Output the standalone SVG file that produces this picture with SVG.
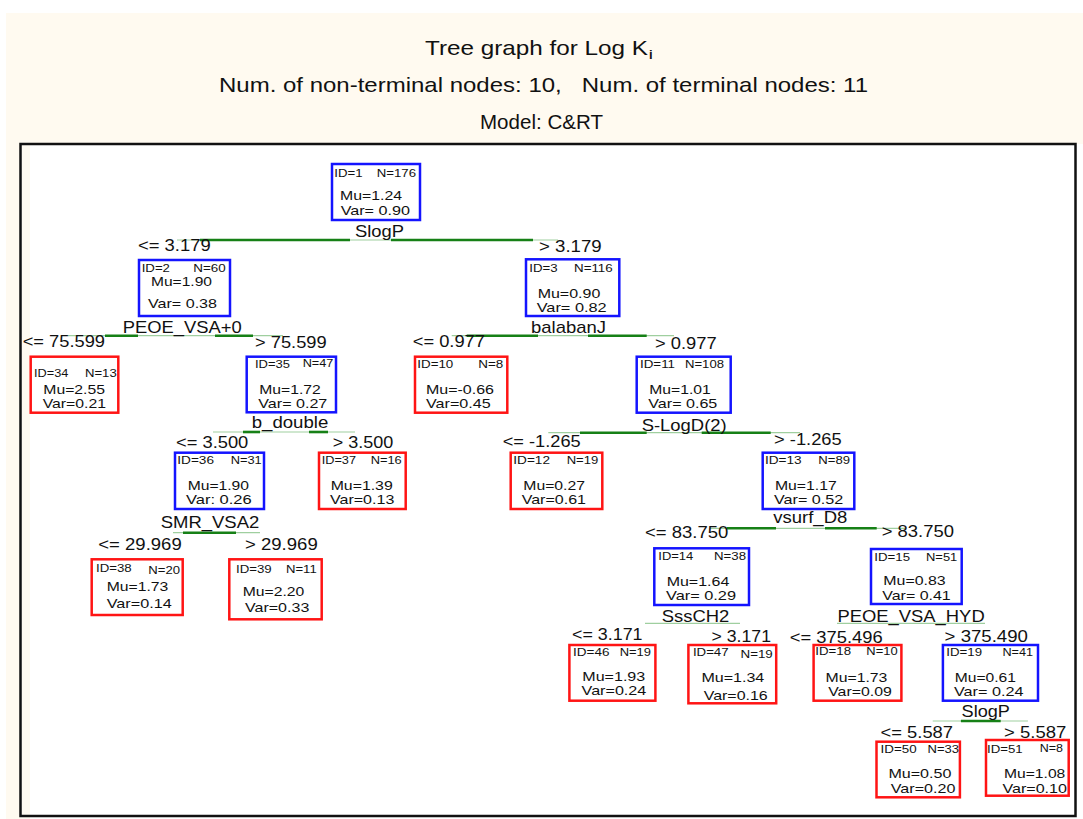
<svg xmlns="http://www.w3.org/2000/svg" width="1083" height="819" viewBox="0 0 1083 819">
<style>
.bx{fill:#fff;stroke-width:2.5}
.b{stroke:#1414ff}
.r{stroke:#ff1414}
text{fill:#111;font-family:"Liberation Sans",Arial,sans-serif}
.s{font-size:11.5px}
.m{font-size:13.5px}
.l{font-size:17px}
.t{font-size:21px}
.thin{stroke:#9fcf9f;stroke-width:1.2;fill:none}
.thick{stroke:#168016;stroke-width:2.6;fill:none}
</style>
<rect x="0" y="0" width="1083" height="819" fill="#ffffff"/>
<rect x="6" y="13" width="1077" height="131" fill="#fffaf0"/>
<rect x="6" y="144" width="24" height="675" fill="#fffaf0"/>
<rect x="20.5" y="144" width="1055" height="672" fill="none" stroke="#111" stroke-width="2.5"/>

<g id="title">
<text class="t" x="425" y="54.5" textLength="223" lengthAdjust="spacingAndGlyphs">Tree graph for Log K</text>
<text x="649" y="58.5" font-size="13" font-weight="bold">i</text>
<text class="t" x="219" y="91.5" textLength="649" lengthAdjust="spacingAndGlyphs" xml:space="preserve">Num. of non-terminal nodes: 10,   Num. of terminal nodes: 11</text>
<text class="t" x="480" y="128.5" textLength="123" lengthAdjust="spacingAndGlyphs">Model: C&amp;RT</text>
</g>

<g id="connectors">
<line class="thin" x1="177" y1="240" x2="558" y2="240"/>
<line class="thick" x1="200" y1="240" x2="350" y2="240"/>
<line class="thick" x1="391" y1="240" x2="533" y2="240"/>
<line class="thin" x1="68" y1="335.7" x2="283" y2="335.7"/>
<line class="thick" x1="105" y1="335.7" x2="138" y2="335.7"/>
<line class="thick" x1="215" y1="335.7" x2="253" y2="335.7"/>
<line class="thin" x1="213" y1="432" x2="355" y2="432"/>
<line class="thick" x1="243" y1="432" x2="260" y2="432"/>
<line class="thick" x1="309" y1="432" x2="328" y2="432"/>
<line class="thin" x1="173" y1="532.7" x2="260" y2="532.7"/>
<line class="thick" x1="183" y1="532.7" x2="236" y2="532.7"/>
<line class="thin" x1="451.7" y1="335.7" x2="674" y2="335.7"/>
<line class="thick" x1="466.7" y1="335.7" x2="538" y2="335.7"/>
<line class="thick" x1="588" y1="335.7" x2="646.7" y2="335.7"/>
<line class="thin" x1="548.3" y1="432.7" x2="800" y2="432.7"/>
<line class="thick" x1="580" y1="432.7" x2="646.7" y2="432.7"/>
<line class="thick" x1="701.7" y1="432.7" x2="770.7" y2="432.7"/>
<line class="thin" x1="710" y1="528.3" x2="905" y2="528.3"/>
<line class="thick" x1="726.7" y1="528.3" x2="776" y2="528.3"/>
<line class="thick" x1="825" y1="528.3" x2="876.7" y2="528.3"/>
<line class="thin" x1="645" y1="623.3" x2="740" y2="623.3"/>
<line class="thin" x1="837" y1="623.3" x2="985" y2="623.3"/>
<line class="thin" x1="932.7" y1="721" x2="1027.9" y2="721"/>
<line class="thick" x1="960.9" y1="721" x2="1000.7" y2="721"/>
</g>

<g id="split-labels">
<text class="l" x="138" y="251" textLength="72.7" lengthAdjust="spacingAndGlyphs">&lt;= 3.179</text>
<text class="l" x="539" y="251.7" textLength="62.7" lengthAdjust="spacingAndGlyphs">&gt; 3.179</text>
<text class="l" x="22.7" y="346.7" textLength="82.3" lengthAdjust="spacingAndGlyphs">&lt;= 75.599</text>
<text class="l" x="255" y="348.3" textLength="71.7" lengthAdjust="spacingAndGlyphs">&gt; 75.599</text>
<text class="l" x="176" y="448.3" textLength="72.3" lengthAdjust="spacingAndGlyphs">&lt;= 3.500</text>
<text class="l" x="332.7" y="448.3" textLength="60.6" lengthAdjust="spacingAndGlyphs">&gt; 3.500</text>
<text class="l" x="98.3" y="550" textLength="83.4" lengthAdjust="spacingAndGlyphs">&lt;= 29.969</text>
<text class="l" x="245" y="550" textLength="72.7" lengthAdjust="spacingAndGlyphs">&gt; 29.969</text>
<text class="l" x="412.7" y="347.3" textLength="72.3" lengthAdjust="spacingAndGlyphs">&lt;= 0.977</text>
<text class="l" x="655" y="349" textLength="61.7" lengthAdjust="spacingAndGlyphs">&gt; 0.977</text>
<text class="l" x="502.7" y="447.3" textLength="78" lengthAdjust="spacingAndGlyphs">&lt;= -1.265</text>
<text class="l" x="774" y="445" textLength="67.7" lengthAdjust="spacingAndGlyphs">&gt; -1.265</text>
<text class="l" x="645" y="537.7" textLength="83.3" lengthAdjust="spacingAndGlyphs">&lt;= 83.750</text>
<text class="l" x="881.7" y="537.3" textLength="72.3" lengthAdjust="spacingAndGlyphs">&gt; 83.750</text>
<text class="l" x="572" y="640" textLength="70.5" lengthAdjust="spacingAndGlyphs">&lt;= 3.171</text>
<text class="l" x="711.6" y="641.7" textLength="59.4" lengthAdjust="spacingAndGlyphs">&gt; 3.171</text>
<text class="l" x="789.8" y="642.7" textLength="92.9" lengthAdjust="spacingAndGlyphs">&lt;= 375.496</text>
<text class="l" x="944.6" y="641.7" textLength="83.3" lengthAdjust="spacingAndGlyphs">&gt; 375.490</text>
<text class="l" x="880.6" y="738.3" textLength="72.4" lengthAdjust="spacingAndGlyphs">&lt;= 5.587</text>
<text class="l" x="1004" y="738.3" textLength="62.3" lengthAdjust="spacingAndGlyphs">&gt; 5.587</text>
</g>

<g id="node-1">
<rect class="bx b" x="332" y="164" width="88" height="56"/>
<text class="s" x="334.3" y="176.5" textLength="28.3" lengthAdjust="spacingAndGlyphs">ID=1</text>
<text class="s" x="376.7" y="176.5" textLength="39.3" lengthAdjust="spacingAndGlyphs">N=176</text>
<text class="m" x="340" y="200" textLength="62" lengthAdjust="spacingAndGlyphs">Mu=1.24</text>
<text class="m" x="340.7" y="215.3" textLength="69.3" lengthAdjust="spacingAndGlyphs">Var= 0.90</text>
<text class="l" x="355" y="237" textLength="49" lengthAdjust="spacingAndGlyphs">SlogP</text>
</g>

<g id="node-2">
<rect class="bx b" x="139" y="260" width="91" height="56"/>
<text class="s" x="141.7" y="271.7" textLength="28.3" lengthAdjust="spacingAndGlyphs">ID=2</text>
<text class="s" x="193.3" y="271.7" textLength="32.4" lengthAdjust="spacingAndGlyphs">N=60</text>
<text class="m" x="151" y="286" textLength="61" lengthAdjust="spacingAndGlyphs">Mu=1.90</text>
<text class="m" x="148" y="307.7" textLength="69" lengthAdjust="spacingAndGlyphs">Var= 0.38</text>
<text class="l" x="122.7" y="333" textLength="119" lengthAdjust="spacingAndGlyphs">PEOE_VSA+0</text>
</g>

<g id="node-34">
<rect class="bx r" x="30.7" y="356.7" width="87.6" height="56"/>
<text class="s" x="34" y="376.7" textLength="34.3" lengthAdjust="spacingAndGlyphs">ID=34</text>
<text class="s" x="85" y="376.7" textLength="31.7" lengthAdjust="spacingAndGlyphs">N=13</text>
<text class="m" x="43.3" y="394.3" textLength="61.7" lengthAdjust="spacingAndGlyphs">Mu=2.55</text>
<text class="m" x="42.7" y="408.3" textLength="63.3" lengthAdjust="spacingAndGlyphs">Var=0.21</text>
</g>

<g id="node-35">
<rect class="bx b" x="246.7" y="356.7" width="89.3" height="55.6"/>
<text class="s" x="255" y="368.3" textLength="35" lengthAdjust="spacingAndGlyphs">ID=35</text>
<text class="s" x="302.7" y="367" textLength="30.6" lengthAdjust="spacingAndGlyphs">N=47</text>
<text class="m" x="259.3" y="394.3" textLength="61.4" lengthAdjust="spacingAndGlyphs">Mu=1.72</text>
<text class="m" x="258.3" y="408.3" textLength="69" lengthAdjust="spacingAndGlyphs">Var= 0.27</text>
<text class="l" x="251.7" y="428.3" textLength="76.6" lengthAdjust="spacingAndGlyphs">b_double</text>
</g>

<g id="node-36">
<rect class="bx b" x="175" y="452.7" width="89" height="56.3"/>
<text class="s" x="177.3" y="464" textLength="36.7" lengthAdjust="spacingAndGlyphs">ID=36</text>
<text class="s" x="230.7" y="464" textLength="31" lengthAdjust="spacingAndGlyphs">N=31</text>
<text class="m" x="187.7" y="490" textLength="61.3" lengthAdjust="spacingAndGlyphs">Mu=1.90</text>
<text class="m" x="186" y="504" textLength="65.7" lengthAdjust="spacingAndGlyphs">Var: 0.26</text>
<text class="l" x="160.7" y="528.3" textLength="98.6" lengthAdjust="spacingAndGlyphs">SMR_VSA2</text>
</g>

<g id="node-37">
<rect class="bx r" x="319" y="452.7" width="86.7" height="56.3"/>
<text class="s" x="321.7" y="464" textLength="34.3" lengthAdjust="spacingAndGlyphs">ID=37</text>
<text class="s" x="370.7" y="464" textLength="31" lengthAdjust="spacingAndGlyphs">N=16</text>
<text class="m" x="330.7" y="490" textLength="62" lengthAdjust="spacingAndGlyphs">Mu=1.39</text>
<text class="m" x="330" y="504" textLength="64.3" lengthAdjust="spacingAndGlyphs">Var=0.13</text>
</g>

<g id="node-38">
<rect class="bx r" x="91.7" y="559.3" width="91" height="55.7"/>
<text class="s" x="96" y="571.7" textLength="35.7" lengthAdjust="spacingAndGlyphs">ID=38</text>
<text class="s" x="148.3" y="574" textLength="31.7" lengthAdjust="spacingAndGlyphs">N=20</text>
<text class="m" x="106.7" y="591" textLength="61.6" lengthAdjust="spacingAndGlyphs">Mu=1.73</text>
<text class="m" x="106.7" y="607.7" textLength="65" lengthAdjust="spacingAndGlyphs">Var=0.14</text>
</g>

<g id="node-39">
<rect class="bx r" x="229.3" y="559.3" width="92.4" height="60"/>
<text class="s" x="236" y="572.7" textLength="35.7" lengthAdjust="spacingAndGlyphs">ID=39</text>
<text class="s" x="286" y="572.7" textLength="30.7" lengthAdjust="spacingAndGlyphs">N=11</text>
<text class="m" x="242.7" y="595.7" textLength="61.6" lengthAdjust="spacingAndGlyphs">Mu=2.20</text>
<text class="m" x="245" y="611.7" textLength="64.3" lengthAdjust="spacingAndGlyphs">Var=0.33</text>
</g>

<g id="node-3">
<rect class="bx b" x="526" y="259.3" width="93.3" height="56.7"/>
<text class="s" x="529.3" y="271.7" textLength="28.3" lengthAdjust="spacingAndGlyphs">ID=3</text>
<text class="s" x="574" y="271.7" textLength="38.7" lengthAdjust="spacingAndGlyphs">N=116</text>
<text class="m" x="537.7" y="297.7" textLength="62.6" lengthAdjust="spacingAndGlyphs">Mu=0.90</text>
<text class="m" x="536.7" y="311.7" textLength="70" lengthAdjust="spacingAndGlyphs">Var= 0.82</text>
<text class="l" x="531" y="332.7" textLength="75" lengthAdjust="spacingAndGlyphs">balabanJ</text>
</g>

<g id="node-10">
<rect class="bx r" x="415" y="356.7" width="92.3" height="56"/>
<text class="s" x="417.3" y="368.3" textLength="36" lengthAdjust="spacingAndGlyphs">ID=10</text>
<text class="s" x="478.3" y="368.3" textLength="25" lengthAdjust="spacingAndGlyphs">N=8</text>
<text class="m" x="426" y="394.3" textLength="68" lengthAdjust="spacingAndGlyphs">Mu=-0.66</text>
<text class="m" x="426" y="408.3" textLength="64.7" lengthAdjust="spacingAndGlyphs">Var=0.45</text>
</g>

<g id="node-11">
<rect class="bx b" x="636.7" y="356.7" width="94" height="56"/>
<text class="s" x="640" y="368.3" textLength="35" lengthAdjust="spacingAndGlyphs">ID=11</text>
<text class="s" x="685" y="368.3" textLength="39" lengthAdjust="spacingAndGlyphs">N=108</text>
<text class="m" x="649.3" y="394.3" textLength="61.4" lengthAdjust="spacingAndGlyphs">Mu=1.01</text>
<text class="m" x="648.3" y="408.3" textLength="69" lengthAdjust="spacingAndGlyphs">Var= 0.65</text>
<text class="l" x="641.7" y="430.7" textLength="85" lengthAdjust="spacingAndGlyphs">S-LogD(2)</text>
</g>

<g id="node-12">
<rect class="bx r" x="510.7" y="452.7" width="91.6" height="56.3"/>
<text class="s" x="513.3" y="464" textLength="36.7" lengthAdjust="spacingAndGlyphs">ID=12</text>
<text class="s" x="566.7" y="464" textLength="31.6" lengthAdjust="spacingAndGlyphs">N=19</text>
<text class="m" x="523.3" y="490" textLength="61.7" lengthAdjust="spacingAndGlyphs">Mu=0.27</text>
<text class="m" x="521.7" y="504" textLength="64.3" lengthAdjust="spacingAndGlyphs">Var=0.61</text>
</g>

<g id="node-13">
<rect class="bx b" x="762.7" y="452.7" width="91.6" height="56.3"/>
<text class="s" x="765" y="464" textLength="36.7" lengthAdjust="spacingAndGlyphs">ID=13</text>
<text class="s" x="818.3" y="464" textLength="31.7" lengthAdjust="spacingAndGlyphs">N=89</text>
<text class="m" x="775" y="490" textLength="61.7" lengthAdjust="spacingAndGlyphs">Mu=1.17</text>
<text class="m" x="774" y="504" textLength="69.3" lengthAdjust="spacingAndGlyphs">Var= 0.52</text>
<text class="l" x="773.3" y="523.3" textLength="74" lengthAdjust="spacingAndGlyphs">vsurf_D8</text>
</g>

<g id="node-14">
<rect class="bx b" x="654.3" y="548.3" width="94.7" height="56.7"/>
<text class="s" x="658.3" y="560" textLength="35" lengthAdjust="spacingAndGlyphs">ID=14</text>
<text class="s" x="714" y="560" textLength="32" lengthAdjust="spacingAndGlyphs">N=38</text>
<text class="m" x="666.7" y="585.7" textLength="62.6" lengthAdjust="spacingAndGlyphs">Mu=1.64</text>
<text class="m" x="666" y="600" textLength="70" lengthAdjust="spacingAndGlyphs">Var= 0.29</text>
<text class="l" x="661.7" y="621.7" textLength="67.6" lengthAdjust="spacingAndGlyphs">SssCH2</text>
</g>

<g id="node-15">
<rect class="bx b" x="871" y="549" width="90.7" height="55"/>
<text class="s" x="874.3" y="560.7" textLength="35.7" lengthAdjust="spacingAndGlyphs">ID=15</text>
<text class="s" x="926" y="560.7" textLength="31.3" lengthAdjust="spacingAndGlyphs">N=51</text>
<text class="m" x="883.3" y="585.3" textLength="62.4" lengthAdjust="spacingAndGlyphs">Mu=0.83</text>
<text class="m" x="882.3" y="599.8" textLength="68.4" lengthAdjust="spacingAndGlyphs">Var= 0.41</text>
<text class="l" x="837.4" y="621.7" textLength="147.3" lengthAdjust="spacingAndGlyphs">PEOE_VSA_HYD</text>
</g>

<g id="node-46">
<rect class="bx r" x="569.4" y="645" width="86" height="55.7"/>
<text class="s" x="573" y="656" textLength="36.4" lengthAdjust="spacingAndGlyphs">ID=46</text>
<text class="s" x="619.7" y="656" textLength="31.3" lengthAdjust="spacingAndGlyphs">N=19</text>
<text class="m" x="582.3" y="680.7" textLength="62.9" lengthAdjust="spacingAndGlyphs">Mu=1.93</text>
<text class="m" x="581.6" y="695" textLength="64.7" lengthAdjust="spacingAndGlyphs">Var=0.24</text>
</g>

<g id="node-47">
<rect class="bx r" x="688.4" y="645" width="87.8" height="58.3"/>
<text class="s" x="692.9" y="656" textLength="35.7" lengthAdjust="spacingAndGlyphs">ID=47</text>
<text class="s" x="740.5" y="657.7" textLength="32.3" lengthAdjust="spacingAndGlyphs">N=19</text>
<text class="m" x="701.4" y="681.7" textLength="62.9" lengthAdjust="spacingAndGlyphs">Mu=1.34</text>
<text class="m" x="703.7" y="700" textLength="64" lengthAdjust="spacingAndGlyphs">Var=0.16</text>
</g>

<g id="node-18">
<rect class="bx r" x="813.6" y="645" width="87.8" height="55.7"/>
<text class="s" x="815.3" y="655" textLength="35.7" lengthAdjust="spacingAndGlyphs">ID=18</text>
<text class="s" x="866.3" y="655" textLength="31.3" lengthAdjust="spacingAndGlyphs">N=10</text>
<text class="m" x="825.5" y="681.7" textLength="61.9" lengthAdjust="spacingAndGlyphs">Mu=1.73</text>
<text class="m" x="828.2" y="696" textLength="63.6" lengthAdjust="spacingAndGlyphs">Var=0.09</text>
</g>

<g id="node-19">
<rect class="bx b" x="942.9" y="645" width="95.1" height="55.7"/>
<text class="s" x="946.3" y="656" textLength="35.7" lengthAdjust="spacingAndGlyphs">ID=19</text>
<text class="s" x="1002.4" y="656" textLength="30.6" lengthAdjust="spacingAndGlyphs">N=41</text>
<text class="m" x="954.8" y="681.7" textLength="61.2" lengthAdjust="spacingAndGlyphs">Mu=0.61</text>
<text class="m" x="954" y="696" textLength="69.5" lengthAdjust="spacingAndGlyphs">Var= 0.24</text>
<text class="l" x="961.6" y="716.5" textLength="48.3" lengthAdjust="spacingAndGlyphs">SlogP</text>
</g>

<g id="node-50">
<rect class="bx r" x="876.5" y="741.7" width="83.4" height="55.6"/>
<text class="s" x="880.6" y="753.3" textLength="36" lengthAdjust="spacingAndGlyphs">ID=50</text>
<text class="s" x="927.6" y="753.3" textLength="31.4" lengthAdjust="spacingAndGlyphs">N=33</text>
<text class="m" x="888.4" y="778.3" textLength="63" lengthAdjust="spacingAndGlyphs">Mu=0.50</text>
<text class="m" x="890.8" y="792.7" textLength="64.6" lengthAdjust="spacingAndGlyphs">Var=0.20</text>
</g>

<g id="node-51">
<rect class="bx r" x="986" y="740" width="82.7" height="55.7"/>
<text class="s" x="987" y="753.3" textLength="35.7" lengthAdjust="spacingAndGlyphs">ID=51</text>
<text class="s" x="1039.8" y="751.7" textLength="23.2" lengthAdjust="spacingAndGlyphs">N=8</text>
<text class="m" x="1004" y="778.3" textLength="61.3" lengthAdjust="spacingAndGlyphs">Mu=1.08</text>
<text class="m" x="1002.4" y="792.7" textLength="64.6" lengthAdjust="spacingAndGlyphs">Var=0.10</text>
</g>
</svg>
